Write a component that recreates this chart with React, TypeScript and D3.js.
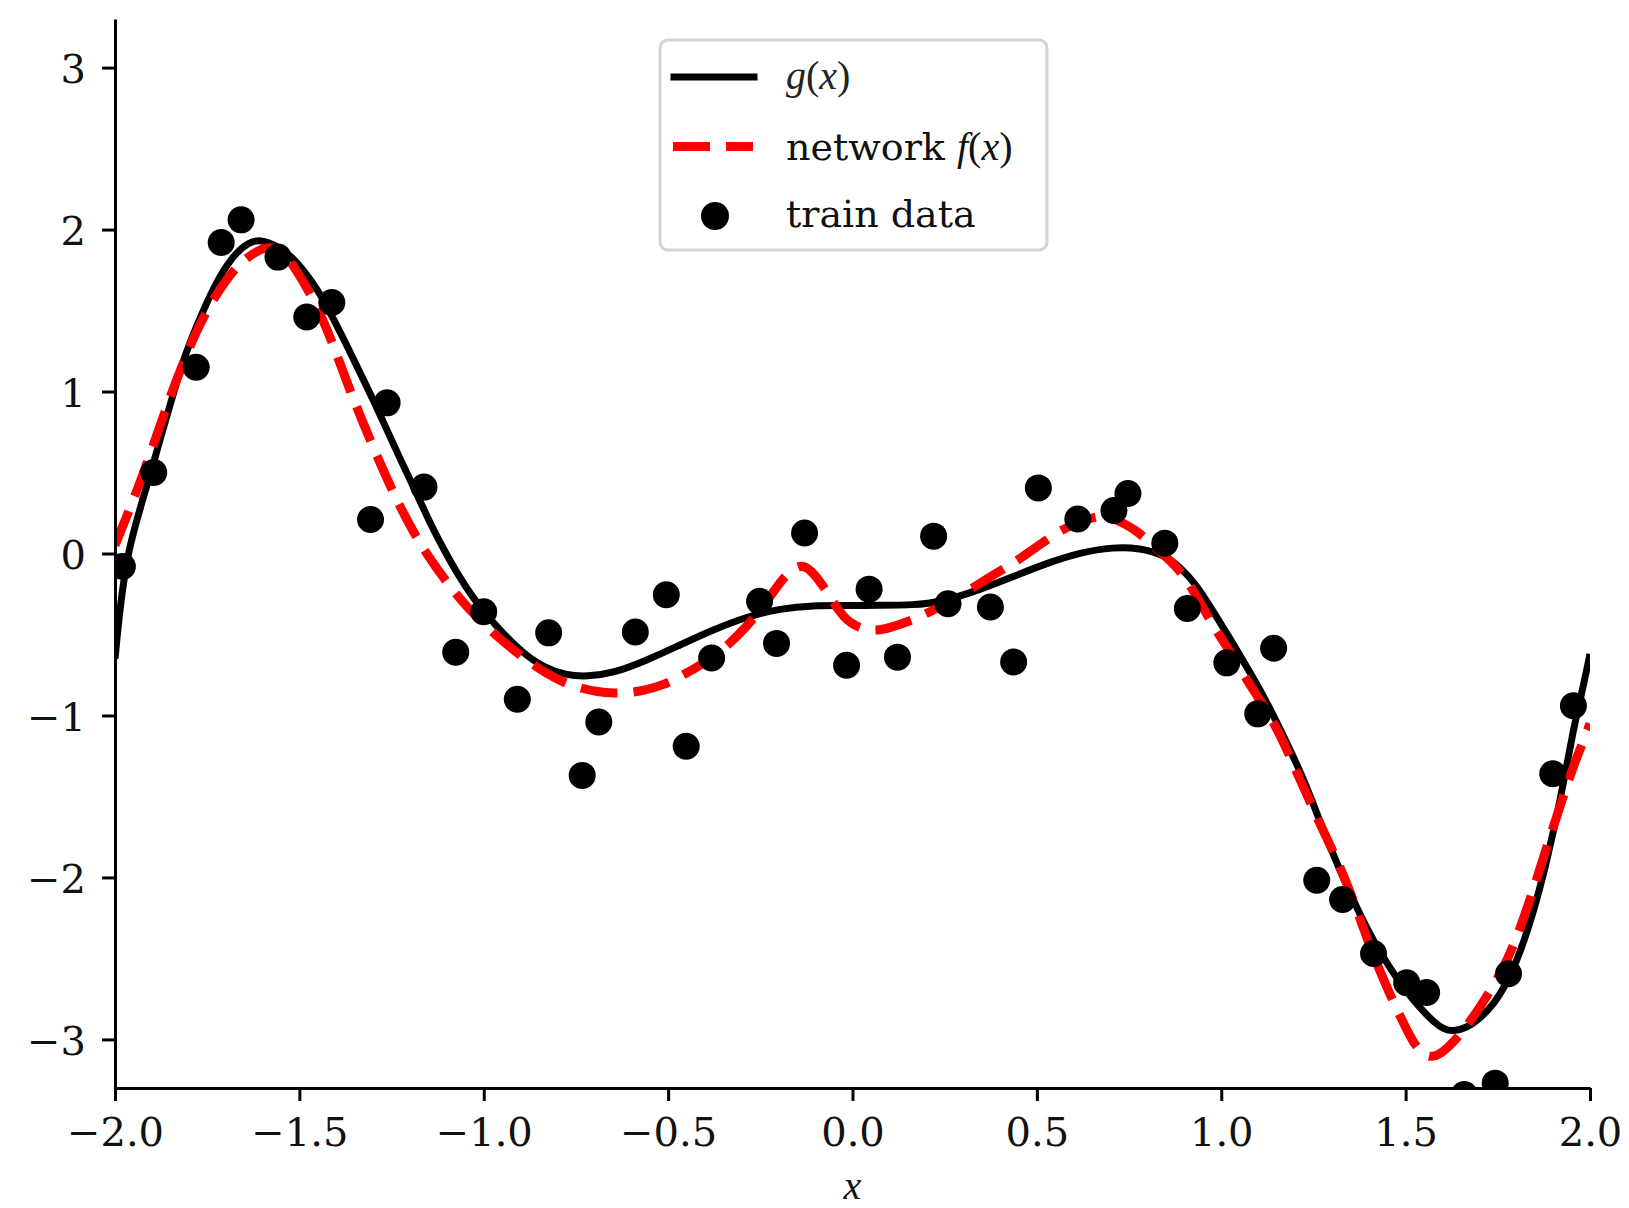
import React, { useEffect, useRef } from "react";
import * as d3 from "d3";

const WIDTH = 1629;
const HEIGHT = 1208;

const xTicks = [-2.0, -1.5, -1.0, -0.5, 0.0, 0.5, 1.0, 1.5, 2.0];
const yTicks = [-3, -2, -1, 0, 1, 2, 3];

// noisy training samples
const trainX = [-1.98, -1.895, -1.78, -1.712, -1.658, -1.558, -1.48, -1.412, -1.307, -1.262, -1.162, -1.076, -1.0, -0.909, -0.824, -0.733, -0.688, -0.589, -0.505, -0.451, -0.382, -0.252, -0.206, -0.13, -0.016, 0.045, 0.122, 0.22, 0.259, 0.374, 0.437, 0.504, 0.611, 0.709, 0.747, 0.847, 0.908, 1.015, 1.099, 1.142, 1.259, 1.329, 1.413, 1.503, 1.557, 1.659, 1.743, 1.779, 1.899, 1.955];
const trainY = [-0.08, 0.5, 1.15, 1.92, 2.06, 1.83, 1.46, 1.55, 0.21, 0.93, 0.41, -0.61, -0.36, -0.9, -0.49, -1.37, -1.04, -0.485, -0.255, -1.19, -0.645, -0.295, -0.555, 0.127, -0.69, -0.22, -0.64, 0.107, -0.31, -0.33, -0.67, 0.405, 0.213, 0.265, 0.37, 0.064, -0.34, -0.675, -0.99, -0.585, -2.017, -2.136, -2.47, -2.65, -2.71, -3.34, -3.27, -2.595, -1.36, -0.94];

// true function g(x)
const gX = [-2.0, -1.985, -1.965, -1.945, -1.923, -1.9, -1.876, -1.85, -1.819, -1.78, -1.73, -1.68, -1.64, -1.606, -1.56, -1.52, -1.493, -1.45, -1.41, -1.368, -1.33, -1.3, -1.274, -1.23, -1.18, -1.14, -1.1, -1.07, -1.03, -0.999, -0.95, -0.893, -0.84, -0.777, -0.72, -0.649, -0.558, -0.468, -0.377, -0.287, -0.196, -0.106, -0.016, 0.075, 0.165, 0.237, 0.346, 0.436, 0.527, 0.617, 0.708, 0.78, 0.843, 0.888, 0.935, 0.979, 1.025, 1.069, 1.115, 1.159, 1.222, 1.27, 1.322, 1.37, 1.412, 1.46, 1.503, 1.545, 1.575, 1.605, 1.629, 1.665, 1.702, 1.74, 1.774, 1.81, 1.846, 1.88, 1.92, 1.955, 1.98, 2.0];
const gY = [-0.65, -0.3, 0.0, 0.17, 0.35, 0.52, 0.72, 0.92, 1.17, 1.4, 1.66, 1.84, 1.92, 1.94, 1.9, 1.83, 1.76, 1.63, 1.46, 1.27, 1.09, 0.95, 0.82, 0.6, 0.36, 0.16, -0.01, -0.13, -0.27, -0.36, -0.49, -0.616, -0.7, -0.752, -0.76, -0.74, -0.66, -0.565, -0.47, -0.39, -0.34, -0.32, -0.322, -0.32, -0.318, -0.302, -0.224, -0.142, -0.06, 0.006, 0.04, 0.033, -0.008, -0.08, -0.2, -0.36, -0.53, -0.7, -0.88, -1.08, -1.38, -1.67, -1.96, -2.2, -2.39, -2.57, -2.71, -2.82, -2.89, -2.94, -2.95, -2.93, -2.87, -2.78, -2.655, -2.47, -2.22, -1.93, -1.52, -1.08, -0.84, -0.62];

// network prediction f(x)
const fX = [-2.0, -1.97, -1.938, -1.91, -1.876, -1.85, -1.82, -1.78, -1.746, -1.7, -1.65, -1.585, -1.54, -1.5, -1.45, -1.41, -1.37, -1.33, -1.28, -1.23, -1.19, -1.15, -1.1, -1.05, -1.01, -0.96, -0.92, -0.87, -0.83, -0.78, -0.74, -0.69, -0.649, -0.6, -0.558, -0.51, -0.468, -0.42, -0.377, -0.33, -0.287, -0.242, -0.21, -0.18, -0.15, -0.13, -0.106, -0.08, -0.06, -0.035, -0.016, 0.01, 0.04, 0.066, 0.1, 0.165, 0.21, 0.255, 0.3, 0.346, 0.39, 0.436, 0.48, 0.527, 0.57, 0.617, 0.671, 0.7, 0.735, 0.77, 0.798, 0.84, 0.888, 0.93, 0.979, 1.025, 1.069, 1.115, 1.159, 1.214, 1.27, 1.322, 1.36, 1.394, 1.425, 1.457, 1.49, 1.52, 1.55, 1.575, 1.6, 1.629, 1.665, 1.702, 1.74, 1.774, 1.81, 1.846, 1.88, 1.919, 1.955, 1.98, 2.0];
const fY = [0.05, 0.22, 0.4, 0.58, 0.8, 0.97, 1.15, 1.37, 1.52, 1.69, 1.82, 1.91, 1.86, 1.72, 1.52, 1.3, 1.05, 0.82, 0.55, 0.3, 0.13, -0.02, -0.18, -0.32, -0.41, -0.52, -0.595, -0.68, -0.74, -0.8, -0.83, -0.855, -0.863, -0.86, -0.84, -0.81, -0.76, -0.7, -0.637, -0.55, -0.45, -0.33, -0.22, -0.13, -0.08, -0.075, -0.12, -0.2, -0.27, -0.36, -0.41, -0.45, -0.47, -0.475, -0.46, -0.41, -0.36, -0.307, -0.25, -0.183, -0.12, -0.06, 0.01, 0.085, 0.15, 0.198, 0.235, 0.225, 0.188, 0.14, 0.085, 0.0, -0.1, -0.25, -0.45, -0.61, -0.78, -0.94, -1.11, -1.4, -1.68, -1.93, -2.15, -2.37, -2.55, -2.72, -2.88, -3.02, -3.1, -3.11, -3.08, -3.02, -2.92, -2.8, -2.66, -2.52, -2.32, -2.08, -1.83, -1.56, -1.31, -1.17, -1.05];

const legendItems = ["g", "network", "train"];

const TICK_FONT = "DejaVu Serif";
const MATH_FONT = "Liberation Serif";

export default function App() {
  const ref = useRef<SVGSVGElement>(null);

  useEffect(() => {
    const svg = d3.select(ref.current);
    svg.selectAll("*").remove();

    const left = 115, right = 1590, top = 19, bottom = 1088;
    const x = d3.scaleLinear().domain([-2, 2]).range([left, right]);
    const y = d3.scaleLinear().domain([-3.3, 3.3]).range([bottom, top]);

    svg
      .append("defs")
      .append("clipPath")
      .attr("id", "plot-area")
      .append("rect")
      .attr("x", left)
      .attr("y", top)
      .attr("width", right - left)
      .attr("height", bottom - top);

    const plot = svg.append("g").attr("clip-path", "url(#plot-area)");

    const line = d3
      .line<[number, number]>()
      .x(d => x(d[0]))
      .y(d => y(d[1]))
      .curve(d3.curveBasis);

    plot
      .append("path")
      .attr("d", line(gX.map((v, i) => [v, gY[i]])))
      .attr("fill", "none")
      .attr("stroke", "#000")
      .attr("stroke-width", 7);

    plot
      .append("path")
      .attr("d", line(fX.map((v, i) => [v, fY[i]])))
      .attr("fill", "none")
      .attr("stroke", "#ff0000")
      .attr("stroke-width", 9)
      .attr("stroke-dasharray", "37 16");

    plot
      .selectAll(".dot")
      .data(trainX.map((v, i) => [v, trainY[i]]))
      .enter()
      .append("circle")
      .attr("class", "dot")
      .attr("cx", d => x(d[0]))
      .attr("cy", d => y(d[1]))
      .attr("r", 13.5)
      .attr("fill", "#000");

    // axes
    const xAxis = d3
      .axisBottom(x)
      .tickValues(xTicks)
      .tickFormat(d3.format(".1f"))
      .tickSize(13)
      .tickSizeOuter(0)
      .tickPadding(17);
    const gx = svg
      .append("g")
      .attr("transform", `translate(0,${bottom})`)
      .call(xAxis);

    const yAxis = d3
      .axisLeft(y)
      .tickValues(yTicks)
      .tickFormat(d3.format("d"))
      .tickSize(13)
      .tickSizeOuter(0)
      .tickPadding(16);
    const gy = svg
      .append("g")
      .attr("transform", `translate(${left},0)`)
      .call(yAxis);

    [gx, gy].forEach(g => {
      g.select(".domain").attr("stroke", "#000").attr("stroke-width", 3);
      g.selectAll(".tick line").attr("stroke", "#000").attr("stroke-width", 3);
      g.selectAll(".tick text")
        .attr("font-family", TICK_FONT)
        .attr("font-size", 40)
        .attr("fill", "#111");
    });
    gy.selectAll(".tick text").attr("dy", "0.37em");

    // x label
    svg
      .append("text")
      .attr("x", x(0))
      .attr("y", 1199)
      .attr("text-anchor", "middle")
      .attr("font-family", MATH_FONT)
      .attr("font-style", "italic")
      .attr("font-size", 40)
      .attr("fill", "#111")
      .text("x");

    // legend
    const legend = svg.append("g");
    legend
      .append("rect")
      .attr("x", 660)
      .attr("y", 40)
      .attr("width", 387)
      .attr("height", 210)
      .attr("rx", 8)
      .attr("fill", "#fff")
      .attr("fill-opacity", 0.8)
      .attr("stroke", "#d4d4d4")
      .attr("stroke-width", 3);

    const rowY = [77, 146.5, 216];
    legendItems.forEach((item, i) => {
      const cy = rowY[i];
      if (item === "g") {
        legend
          .append("line")
          .attr("x1", 674)
          .attr("x2", 754)
          .attr("y1", cy)
          .attr("y2", cy)
          .attr("stroke", "#000")
          .attr("stroke-width", 7)
          .attr("stroke-linecap", "square");
        const t = legend
          .append("text")
          .attr("x", 786)
          .attr("y", cy + 12)
          .attr("font-family", MATH_FONT)
          .attr("font-size", 40)
          .attr("fill", "#222");
        t.append("tspan").attr("font-style", "italic").text("g");
        t.append("tspan").text("(");
        t.append("tspan").attr("font-style", "italic").text("x");
        t.append("tspan").text(")");
      } else if (item === "network") {
        legend
          .append("line")
          .attr("x1", 673)
          .attr("x2", 753)
          .attr("y1", cy)
          .attr("y2", cy)
          .attr("stroke", "#ff0000")
          .attr("stroke-width", 9)
          .attr("stroke-dasharray", "37 16");
        const t = legend
          .append("text")
          .attr("x", 786)
          .attr("y", cy + 13)
          .attr("font-family", TICK_FONT)
          .attr("font-size", 38)
          .attr("fill", "#111");
        t.append("tspan").text("network ");
        t.append("tspan").attr("font-family", MATH_FONT).attr("font-size", 40).attr("font-style", "italic").text("f");
        t.append("tspan").attr("font-family", MATH_FONT).attr("font-size", 40).text("(");
        t.append("tspan").attr("font-family", MATH_FONT).attr("font-size", 40).attr("font-style", "italic").text("x");
        t.append("tspan").attr("font-family", MATH_FONT).attr("font-size", 40).text(")");
      } else {
        legend
          .append("circle")
          .attr("cx", 715)
          .attr("cy", cy)
          .attr("r", 14)
          .attr("fill", "#000");
        legend
          .append("text")
          .attr("x", 786)
          .attr("y", cy + 11)
          .attr("font-family", TICK_FONT)
          .attr("font-size", 38)
          .attr("fill", "#111")
          .text("train data");
      }
    });
  }, []);

  return (
    <svg
      ref={ref}
      width={WIDTH}
      height={HEIGHT}
      style={{ position: "absolute", left: 0, top: 0, display: "block", background: "#fff" }}
    />
  );
}
